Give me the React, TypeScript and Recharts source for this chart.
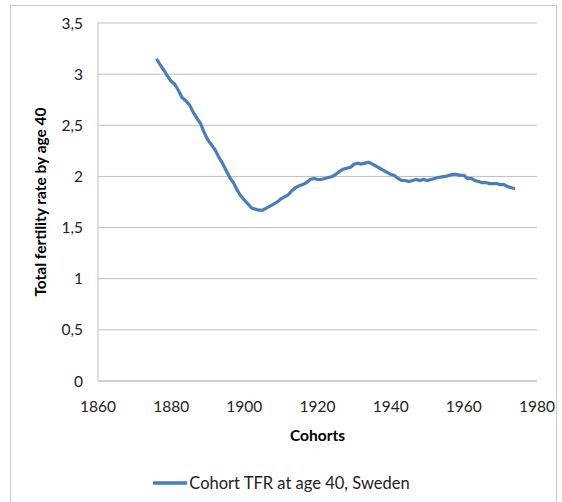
import React from 'react';
import { LineChart, Line, XAxis, YAxis, CartesianGrid, Legend } from 'recharts';

const cohorts: number[] = [
  1876, 1877, 1878, 1879, 1880, 1881, 1882, 1883, 1884, 1885,
  1886, 1887, 1888, 1889, 1890, 1891, 1892, 1893, 1894, 1895,
  1896, 1897, 1898, 1899, 1900, 1901, 1902, 1903, 1904, 1905,
  1906, 1907, 1908, 1909, 1910, 1911, 1912, 1913, 1914, 1915,
  1916, 1917, 1918, 1919, 1920, 1921, 1922, 1923, 1924, 1925,
  1926, 1927, 1928, 1929, 1930, 1931, 1932, 1933, 1934, 1935,
  1936, 1937, 1938, 1939, 1940, 1941, 1942, 1943, 1944, 1945,
  1946, 1947, 1948, 1949, 1950, 1951, 1952, 1953, 1954, 1955,
  1956, 1957, 1958, 1959, 1960, 1961, 1962, 1963, 1964, 1965,
  1966, 1967, 1968, 1969, 1970, 1971, 1972, 1973, 1974,
];

const tfrAge40: number[] = [
  3.15, 3.09, 3.04, 2.98, 2.93, 2.9, 2.84, 2.77, 2.74, 2.7,
  2.63, 2.57, 2.52, 2.43, 2.36, 2.31, 2.26, 2.19, 2.13, 2.06,
  1.99, 1.94, 1.87, 1.81, 1.77, 1.73, 1.69, 1.68, 1.67, 1.67,
  1.69, 1.71, 1.73, 1.75, 1.78, 1.8, 1.82, 1.86, 1.89, 1.91,
  1.92, 1.94, 1.97, 1.98, 1.97, 1.97, 1.98, 1.99, 2.0, 2.02,
  2.05, 2.07, 2.08, 2.09, 2.12, 2.13, 2.12, 2.13, 2.14, 2.12,
  2.1, 2.08, 2.06, 2.04, 2.02, 2.01, 1.98, 1.96, 1.96, 1.95,
  1.96, 1.97, 1.96, 1.97, 1.96, 1.97, 1.98, 1.99, 1.995, 2.0,
  2.01, 2.02, 2.02, 2.01, 2.01, 1.98, 1.98, 1.96, 1.95, 1.94,
  1.94, 1.93, 1.93, 1.93, 1.92, 1.92, 1.9, 1.89, 1.88,
];

const xTicks: number[] = [1860, 1880, 1900, 1920, 1940, 1960, 1980];
const yTicks: number[] = [0, 0.5, 1, 1.5, 2, 2.5, 3, 3.5];

const seriesName = 'Cohort TFR at age 40, Sweden';
const xTitle = 'Cohorts';
const yTitle = 'Total fertility rate by age 40';

const data = cohorts.map((c, i) => ({ cohort: c, tfr: tfrAge40[i] }));

const FONT = 'Lato, "Open Sans", sans-serif';
const LINE_COLOR = '#4a7ebb';
const GRID = '#bfbfbf';

const LegendContent = () => (
  <div style={{ display: 'flex', alignItems: 'center', justifyContent: 'center', fontFamily: FONT, fontSize: 16.5, color: '#222', paddingLeft: 26 }}>
    <svg width={34} height={10} style={{ marginRight: 2 }}>
      <line x1={0} y1={5} x2={34} y2={5} stroke={LINE_COLOR} strokeWidth={3.5} />
    </svg>
    <span>{seriesName}</span>
  </div>
);

export default function App() {
  return (
    <div style={{ position: 'absolute', left: 0, top: 0, width: 562, height: 502, overflow: 'hidden', background: '#fff' }}>
      <div style={{ position: 'absolute', left: 10, top: 5, width: 545, height: 520, border: '1px solid #c8c8c8' }} />
      <div style={{ position: 'absolute', left: 0, top: 0 }}>
        <LineChart width={562} height={502} data={data} margin={{ top: 23, right: 25, left: 0, bottom: 5 }}>
          <CartesianGrid horizontal={true} vertical={false} stroke={GRID} strokeWidth={1} />
          <XAxis
            dataKey="cohort"
            type="number"
            domain={[1860, 1980]}
            ticks={xTicks}
            height={92}
            tickLine={false}
            tickSize={0}
            tickMargin={20}
            axisLine={{ stroke: GRID }}
            tick={{ fontFamily: FONT, fontSize: 15.5, fill: '#222' }}
            label={{ value: xTitle, position: 'insideTop', offset: 49, style: { fontFamily: FONT, fontSize: 15.5, fontWeight: 700, fill: '#000' } }}
          />
          <YAxis
            type="number"
            domain={[0, 3.5]}
            ticks={yTicks}
            width={98}
            tickLine={false}
            tickSize={0}
            tickMargin={15}
            axisLine={{ stroke: GRID }}
            tickFormatter={(v: number) => String(v).replace('.', ',')}
            tick={{ fontFamily: FONT, fontSize: 15.5, fill: '#222' }}
            label={{ value: yTitle, angle: -90, position: 'insideLeft', offset: 40, style: { textAnchor: 'middle', fontFamily: FONT, fontSize: 15.5, fontWeight: 700, fill: '#000' } }}
          />
          <Legend verticalAlign="bottom" height={24} content={<LegendContent />} />
          <Line
            type="linear"
            dataKey="tfr"
            name={seriesName}
            stroke={LINE_COLOR}
            strokeWidth={3.2}
            dot={false}
            isAnimationActive={false}
          />
        </LineChart>
      </div>
    </div>
  );
}
